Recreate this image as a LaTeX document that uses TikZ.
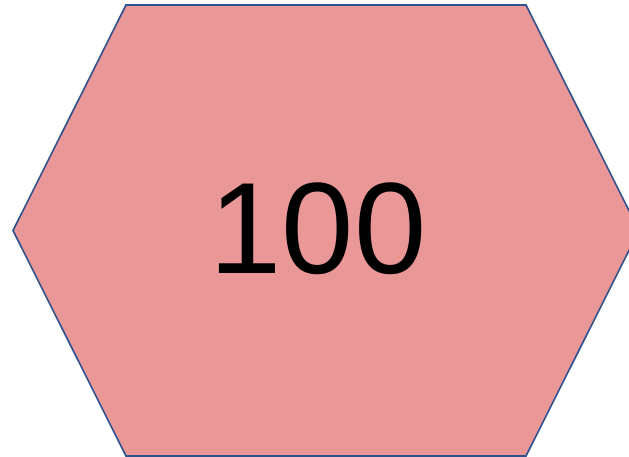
\documentclass[tikz,border=0pt]{standalone}
\usepackage{fontspec}
\setmainfont{Liberation Sans}
\usetikzlibrary{positioning}
\definecolor{hexfill}{RGB}{233,151,151}
\definecolor{hexline}{RGB}{47,82,143}

\begin{document}
\begin{tikzpicture}[x=1pt,y=-1pt]
  \useasboundingbox (0,0) rectangle (629,457);
  % Hexagon corners
  \coordinate (w) at (13,230.5);
  \coordinate (nw) at (126,5);
  \coordinate (ne) at (526,5);
  \coordinate (e) at (639,230.5);
  \coordinate (se) at (526,456);
  \coordinate (sw) at (126,456);
  % Hexagon
  \filldraw[fill=hexfill, draw=hexline, line width=1.6pt]
    (w) -- (nw) -- (ne) -- (e) -- (se) -- (sw) -- cycle;
  % Value
  \node[font=\fontsize{130}{130}\selectfont, inner sep=0pt] (value) at (318,229) {100};
\end{tikzpicture}
\end{document}
